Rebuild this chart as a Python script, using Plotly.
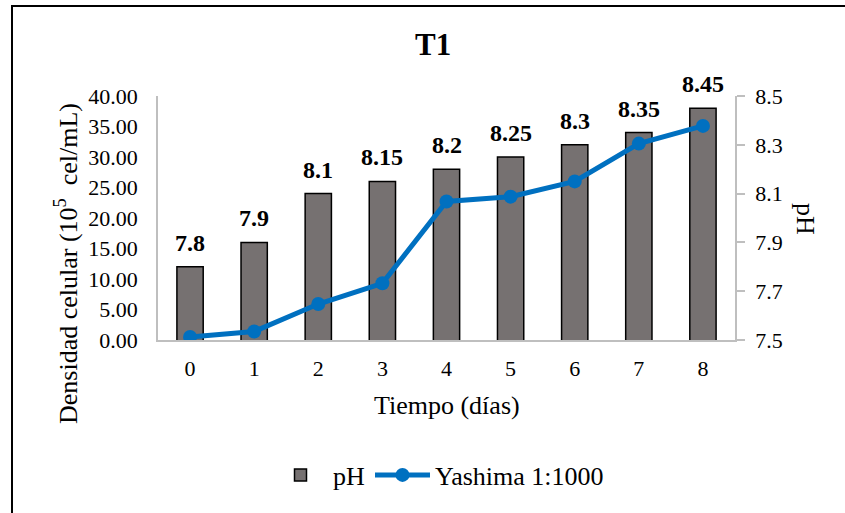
import plotly.graph_objects as go

# Days of culture
dias = [0, 1, 2, 3, 4, 5, 6, 7, 8]
# pH measured each day (bars, right axis)
ph = [7.8, 7.9, 8.1, 8.15, 8.2, 8.25, 8.3, 8.35, 8.45]
ph_labels = ["7.8", "7.9", "8.1", "8.15", "8.2", "8.25", "8.3", "8.35", "8.45"]
# Cell density, Yashima 1:1000 (line, left axis, 10^5 cel/mL)
densidad = [0.5, 1.4, 5.9, 9.3, 22.7, 23.5, 26.0, 32.2, 35.1]

FONT = "Liberation Serif"
W, H = 845, 513
L, R, T, B = 158, 110, 96, 173
PW, PH = W - L - R, H - T - B


def px_x(x):
    return (x - L) / PW


def px_y(y):
    return (H - B - y) / PH


fig = go.Figure()

fig.add_trace(go.Bar(
    x=dias, y=ph, name="pH", yaxis="y",
    width=0.41,
    marker=dict(color="#767171", line=dict(color="#000000", width=1.5)),
))

fig.add_trace(go.Scatter(
    x=dias, y=densidad, name="Yashima 1:1000", yaxis="y2",
    mode="lines+markers",
    line=dict(color="#0070C0", width=5),
    marker=dict(color="#0070C0", size=14),
))

annotations = []
for d, v, t in zip(dias, ph, ph_labels):
    annotations.append(dict(
        x=d, y=v, xref="x", yref="y", text="<b>" + t + "</b>", showarrow=False,
        yanchor="middle", yshift=24,
        font=dict(family=FONT, size=24, color="#000000"),
    ))

annotations += [
    dict(text="<b>T1</b>", x=px_x(433), y=px_y(44), xref="paper", yref="paper",
         showarrow=False, xanchor="center", yanchor="middle",
         font=dict(family=FONT, size=31, color="#000000")),
    dict(text="Densidad celular (10<sup>5</sup>  cel/mL)", x=px_x(66), y=px_y(264),
         xref="paper", yref="paper", showarrow=False, textangle=-90,
         xanchor="center", yanchor="middle",
         font=dict(family=FONT, size=26, color="#000000")),
    dict(text="Tiempo (días)", x=px_x(447), y=px_y(405), xref="paper", yref="paper",
         showarrow=False, xanchor="center", yanchor="middle",
         font=dict(family=FONT, size=26, color="#000000")),
    dict(text="pH", x=px_x(806), y=px_y(219), xref="paper", yref="paper",
         showarrow=False, textangle=90, xanchor="center", yanchor="middle",
         font=dict(family=FONT, size=26, color="#000000")),
]

fig.update_layout(
    width=W, height=H,
    margin=dict(l=L, r=R, t=T, b=B, autoexpand=False),
    paper_bgcolor="#FFFFFF", plot_bgcolor="#FFFFFF",
    font=dict(family=FONT, size=22, color="#000000"),
    showlegend=True,
    legend=dict(orientation="h", x=px_x(268), y=px_y(475), xanchor="left",
                yanchor="middle", font=dict(family=FONT, size=26, color="#000000"),
                itemwidth=55, traceorder="normal"),
    xaxis=dict(range=[-0.5, 8.5], tickmode="array", tickvals=dias,
               ticktext=[str(d) for d in dias], showline=True,
               linecolor="#BFBFBF", linewidth=1.5, showgrid=False,
               zeroline=False, ticks="", ticklabelstandoff=8,
               tickfont=dict(family=FONT, size=22)),
    yaxis=dict(side="right", range=[7.5, 8.5], dtick=0.2, tick0=7.5,
               tickformat=".1f", showline=True, linecolor="#BFBFBF",
               linewidth=1.5, ticks="outside", ticklen=8, tickcolor="#BFBFBF",
               tickwidth=1.5, showgrid=False, zeroline=False,
               ticklabelstandoff=6, tickfont=dict(family=FONT, size=22)),
    yaxis2=dict(side="left", overlaying="y", range=[0, 40], dtick=5,
                tickformat=".2f", showline=True, linecolor="#BFBFBF",
                linewidth=1.5, ticks="", showgrid=False, zeroline=False,
                ticklabelstandoff=14, tickfont=dict(family=FONT, size=22)),
    annotations=annotations,
    shapes=[dict(type="rect", xref="paper", yref="paper",
                 x0=px_x(12), x1=px_x(860), y0=px_y(6), y1=px_y(530),
                 line=dict(color="#000000", width=2), fillcolor="rgba(0,0,0,0)",
                 layer="below")],
)

fig.write_html("out.html")
